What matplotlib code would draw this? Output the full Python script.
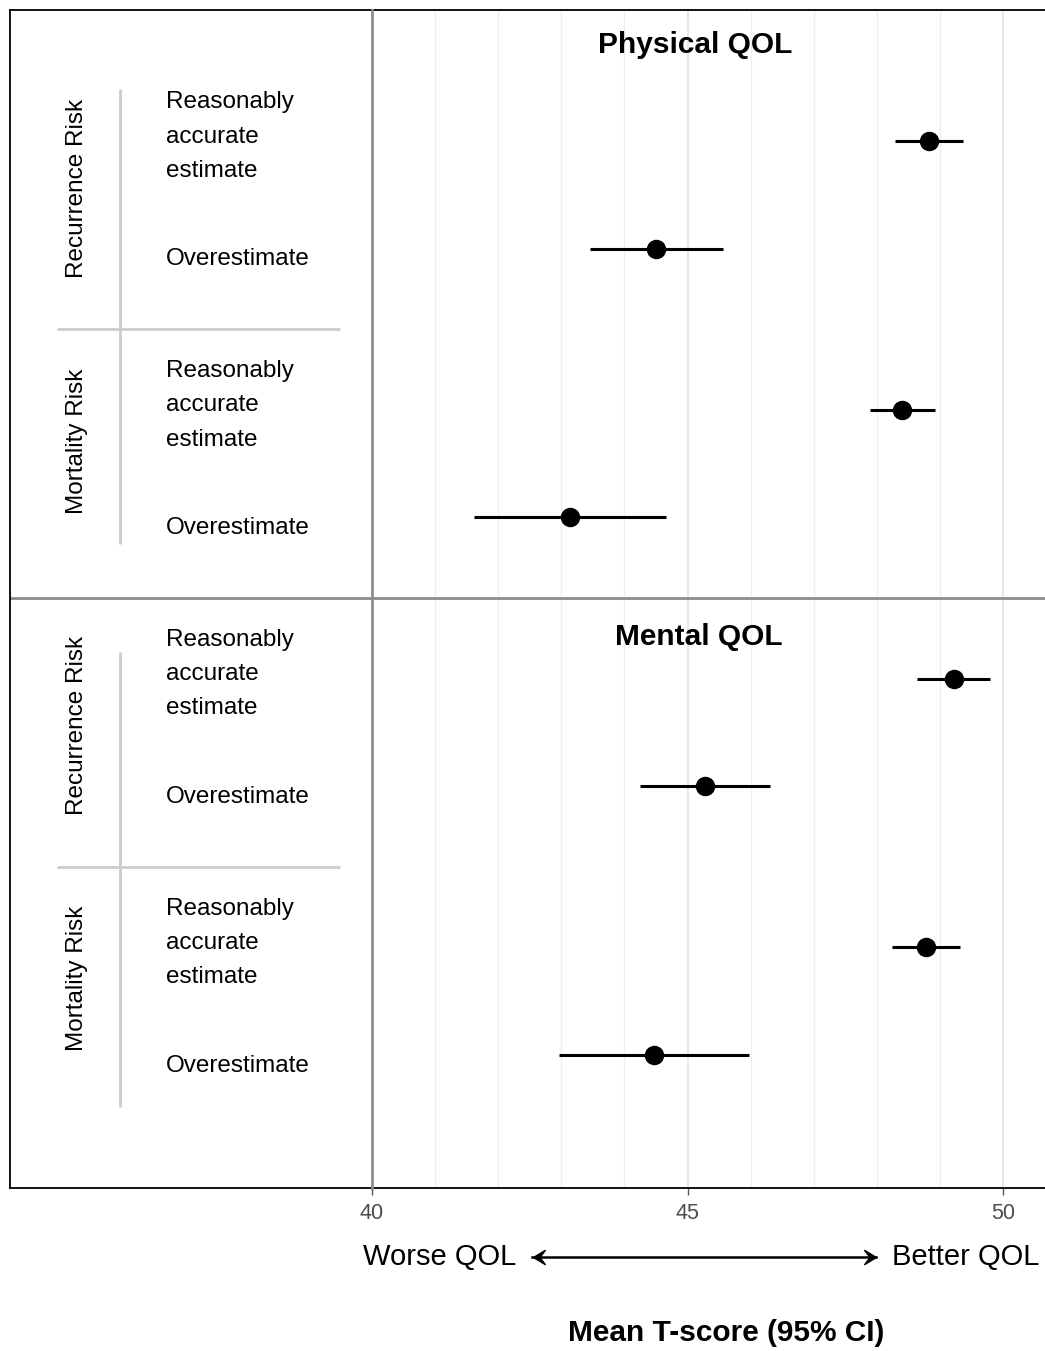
import matplotlib.pyplot as plt
import numpy as np
from matplotlib.path import Path
from matplotlib.transforms import Affine2D

plt.rcParams["font.family"] = ["Liberation Sans", "DejaVu Sans"]

# Data
panels = ["Physical QOL", "Mental QOL"]
groups = ["Recurrence Risk", "Mortality Risk"]
levels = ["Reasonably\naccurate\nestimate", "Overestimate"]

phys_mean = [48.83, 44.50, 48.40, 43.14]
phys_lo = [48.29, 43.45, 47.89, 41.62]
phys_hi = [49.37, 45.56, 48.92, 44.66]

ment_mean = [49.22, 45.28, 48.78, 44.47]
ment_lo = [48.64, 44.25, 48.24, 42.96]
ment_hi = [49.79, 46.31, 49.32, 45.97]

xticks = [40, 45, 50]

means = [phys_mean, ment_mean]
los = [phys_lo, ment_lo]
his = [phys_hi, ment_hi]

# row layout: 1 unit inside a group, 1.5 between groups
rows = []
pos = 0.0
for p in range(len(panels)):
    panel_rows = []
    for g in range(len(groups)):
        grp = []
        for lv in range(len(levels)):
            grp.append(pos)
            pos += 1.0
        pos += 0.5
        panel_rows.append(grp)
    rows.append(panel_rows)

y_top, y_bot = -1.2186, 9.7395
sep = 4.25
panel_tops = [y_top, sep]
title_offsets = [0.33, 0.36]

W, H = 1045, 1351
fig = plt.figure(figsize=(W / 100, H / 100), dpi=100)
ax_bottom = (H - 1188) / H
ax_height = 1178 / H
ax_lab = fig.add_axes([10 / W, ax_bottom, 362 / W, ax_height])
ax = fig.add_axes([372 / W, ax_bottom, 680 / W, ax_height])

for a in (ax_lab, ax):
    a.set_ylim(y_bot, y_top)
    a.axhline(sep, color="#8c8c8c", lw=2, zorder=1)

# data panel
ax.set_xlim(40, 40 + 680 / 63.1)
for v in range(41, 51):
    c = "#e3e3e3" if v % 5 == 0 else "#eeeeee"
    ax.axvline(v, color=c, lw=1.2 if v % 5 == 0 else 0.9, zorder=0)

title_x = [0.476, 0.48]
for p in range(len(panels)):
    flat = [y for grp in rows[p] for y in grp]
    ax.hlines(flat, los[p], his[p], color="black", lw=2.2, zorder=3)
    ax.plot(means[p], flat, "o", color="black", ms=13, zorder=4)
    ax.text(title_x[p], panel_tops[p] + title_offsets[p], panels[p],
            transform=ax.get_yaxis_transform(),
            ha="center", va="center", fontsize=21.5, fontweight="bold")

ax.set_xticks(xticks)
ax.set_xticklabels([str(t) for t in xticks])
ax.set_yticks([])
ax.tick_params(axis="x", length=5, width=1, color="#555555", labelcolor="#4d4d4d",
               labelsize=15.5, pad=6)
ax.spines["right"].set_visible(False)
for s in ("top", "bottom"):
    ax.spines[s].set_color("black")
    ax.spines[s].set_linewidth(1.3)
ax.spines["left"].set_color("#8c8c8c")
ax.spines["left"].set_linewidth(2)
ax.spines["left"].set_zorder(5)

# label panel (pixel-like x scale)
ax_lab.set_xlim(10, 372)
ax_lab.set_xticks([])
ax_lab.set_yticks([])
for s in ("left", "top", "bottom"):
    ax_lab.spines[s].set_color("black")
    ax_lab.spines[s].set_linewidth(1.3)
ax_lab.spines["right"].set_visible(False)

line_spans = [(-0.48, 0.25), (-0.25, 0.49)]
group_shift = [-0.06, -0.21]
for p in range(len(panels)):
    prow = rows[p]
    first, last = prow[0][0], prow[-1][-1]
    ax_lab.vlines(120, first + line_spans[p][0], last + line_spans[p][1],
                  color="#cccccc", lw=2)
    mid_gap = (prow[0][-1] + prow[1][0]) / 2
    ax_lab.hlines(mid_gap, 57, 340, color="#cccccc", lw=2)
    for g in range(len(groups)):
        grp = prow[g]
        ax_lab.text(77, np.mean(grp) + group_shift[g], groups[g], rotation=90,
                    ha="center", va="center", fontsize=17.5)
        for lv, y in enumerate(grp):
            off = -0.04 if lv == 0 else 0.1
            ax_lab.text(166, y + off, levels[lv], ha="left", va="center",
                        fontsize=17.5, linespacing=1.72)

# direction arrow and axis title
ya = (H - 1257) / H
fig.text(516 / W, ya, "Worse QOL", ha="right", va="center", fontsize=21)
fig.text(892 / W, ya, "Better QOL", ha="left", va="center", fontsize=21)

head = Path([(0, 0), (-1, 0.6), (-0.55, 0), (-1, -0.6), (0, 0)],
            [Path.MOVETO, Path.LINETO, Path.LINETO, Path.LINETO, Path.CLOSEPOLY])
fig.add_artist(plt.Line2D([532 / W, 876 / W], [ya, ya], color="black", lw=1.8,
                          transform=fig.transFigure))
fig.add_artist(plt.Line2D([876 / W], [ya], marker=head, ms=17, color="black",
                          transform=fig.transFigure))
fig.add_artist(plt.Line2D([533 / W], [ya], marker=head.transformed(Affine2D().scale(-1, 1)),
                          ms=17, color="black", transform=fig.transFigure))

fig.text(726 / W, (H - 1333) / H, "Mean T-score (95% CI)", ha="center", va="center",
         fontsize=21.5, fontweight="bold")

fig.savefig("out.png", dpi=100)
